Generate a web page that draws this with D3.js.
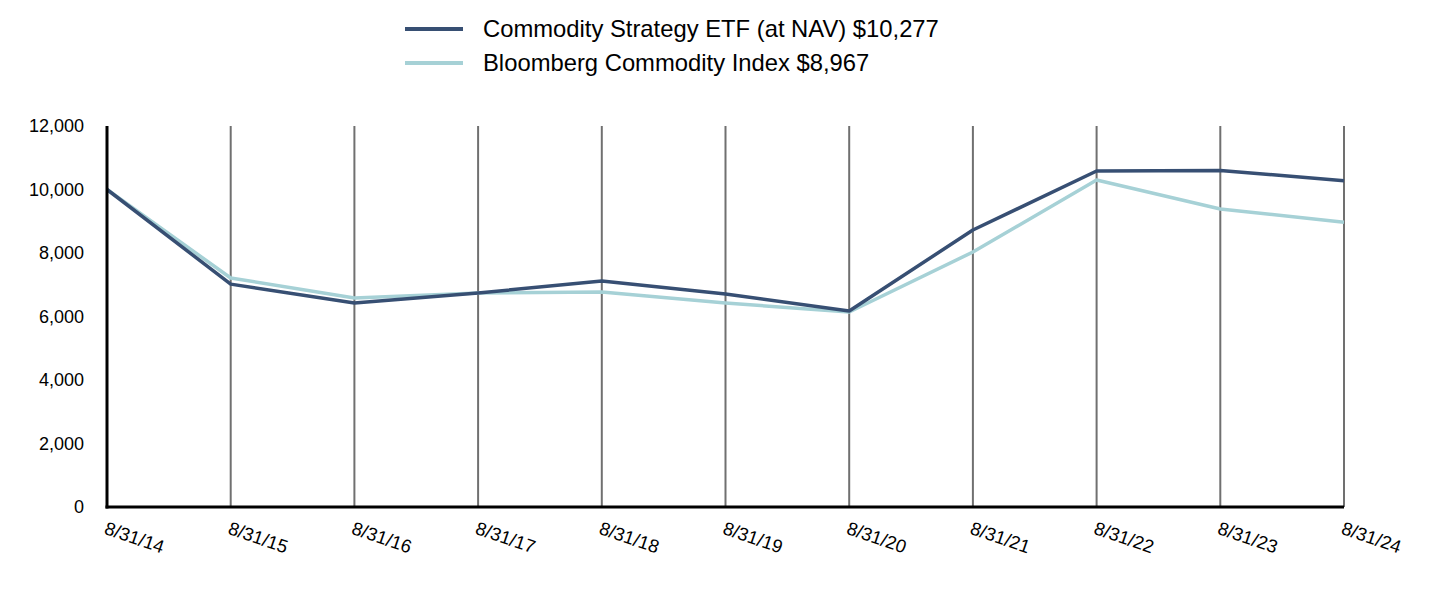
<!DOCTYPE html>
<html>
<head>
<meta charset="utf-8">
<script src="https://cdn.jsdelivr.net/npm/d3@7"></script>
<style>
  body { margin: 0; background: #fff; font-family: "Liberation Sans", Arial, sans-serif; }
</style>
</head>
<body>
<div id="chart"></div>
<script>
// data
const dates = ["8/31/14", "8/31/15", "8/31/16", "8/31/17", "8/31/18", "8/31/19", "8/31/20", "8/31/21", "8/31/22", "8/31/23", "8/31/24"];
const etfValues = [10000, 7020, 6425, 6740, 7118, 6709, 6173, 8724, 10583, 10600, 10277];
const indexValues = [10000, 7213, 6583, 6740, 6772, 6425, 6142, 8031, 10299, 9386, 8967];
const yTicks = [0, 2000, 4000, 6000, 8000, 10000, 12000];
const seriesNames = ["Commodity Strategy ETF (at NAV) $10,277", "Bloomberg Commodity Index $8,967"];
const seriesColors = ["#374f73", "#a6d1d6"];

const W = 1432, H = 596;
const margin = { top: 126, right: 88, bottom: 89, left: 107 };
const width = W - margin.left - margin.right;
const height = H - margin.top - margin.bottom;

const svg = d3.select("#chart").append("svg")
    .attr("width", W)
    .attr("height", H);

const g = svg.append("g")
    .attr("transform", "translate(" + margin.left + "," + margin.top + ")");

const x = d3.scalePoint()
    .domain(dates)
    .range([0, width]);

const y = d3.scaleLinear()
    .domain([0, 12000])
    .range([height, 0]);

// vertical grid lines
g.selectAll(".grid")
    .data(dates.slice(1))
    .enter().append("line")
    .attr("class", "grid")
    .attr("x1", d => x(d))
    .attr("x2", d => x(d))
    .attr("y1", 0)
    .attr("y2", height)
    .attr("stroke", "#707070")
    .attr("stroke-width", 2);

// y axis labels
const yAxis = d3.axisLeft(y)
    .tickValues(yTicks)
    .tickSize(0)
    .tickPadding(23)
    .tickFormat(d3.format(","));

const yG = g.append("g").call(yAxis);
yG.select(".domain").remove();
yG.selectAll("text")
    .attr("font-family", "'Liberation Sans', Arial, sans-serif")
    .attr("font-size", 18)
    .attr("fill", "#000");

// x axis labels, rotated
const xAxis = d3.axisBottom(x).tickSize(0).tickPadding(0);
const xG = g.append("g")
    .attr("transform", "translate(0," + height + ")")
    .call(xAxis);
xG.select(".domain").remove();
xG.selectAll("text")
    .attr("font-family", "'Liberation Sans', Arial, sans-serif")
    .attr("font-size", 18.5)
    .attr("fill", "#000")
    .attr("text-anchor", "start")
    .attr("y", 0)
    .attr("dy", "0.71em")
    .attr("transform", "translate(0,14) rotate(19)");

// lines
const line = d3.line()
    .x((d, i) => x(dates[i]))
    .y(d => y(d));

[indexValues, etfValues].forEach((vals, k) => {
    g.append("path")
        .datum(vals)
        .attr("fill", "none")
        .attr("stroke", k === 0 ? seriesColors[1] : seriesColors[0])
        .attr("stroke-width", 3.5)
        .attr("stroke-linejoin", "round")
        .attr("d", line);
});

// axes lines
g.append("line")
    .attr("x1", 0).attr("x2", 0)
    .attr("y1", 0).attr("y2", height + 1.5)
    .attr("stroke", "#000").attr("stroke-width", 3);
g.append("line")
    .attr("x1", -1.5).attr("x2", width)
    .attr("y1", height).attr("y2", height)
    .attr("stroke", "#000").attr("stroke-width", 3);

// legend
const legend = svg.append("g");
seriesNames.forEach((name, i) => {
    const ly = 29 + i * 34;
    legend.append("line")
        .attr("x1", 405).attr("x2", 463)
        .attr("y1", ly).attr("y2", ly)
        .attr("stroke", seriesColors[i])
        .attr("stroke-width", 4);
    legend.append("text")
        .attr("x", 483)
        .attr("y", ly)
        .attr("dy", "0.35em")
        .attr("font-family", "'Liberation Sans', Arial, sans-serif")
        .attr("font-size", 23.8)
        .attr("fill", "#000")
        .text(name);
});
</script>
</body>
</html>
